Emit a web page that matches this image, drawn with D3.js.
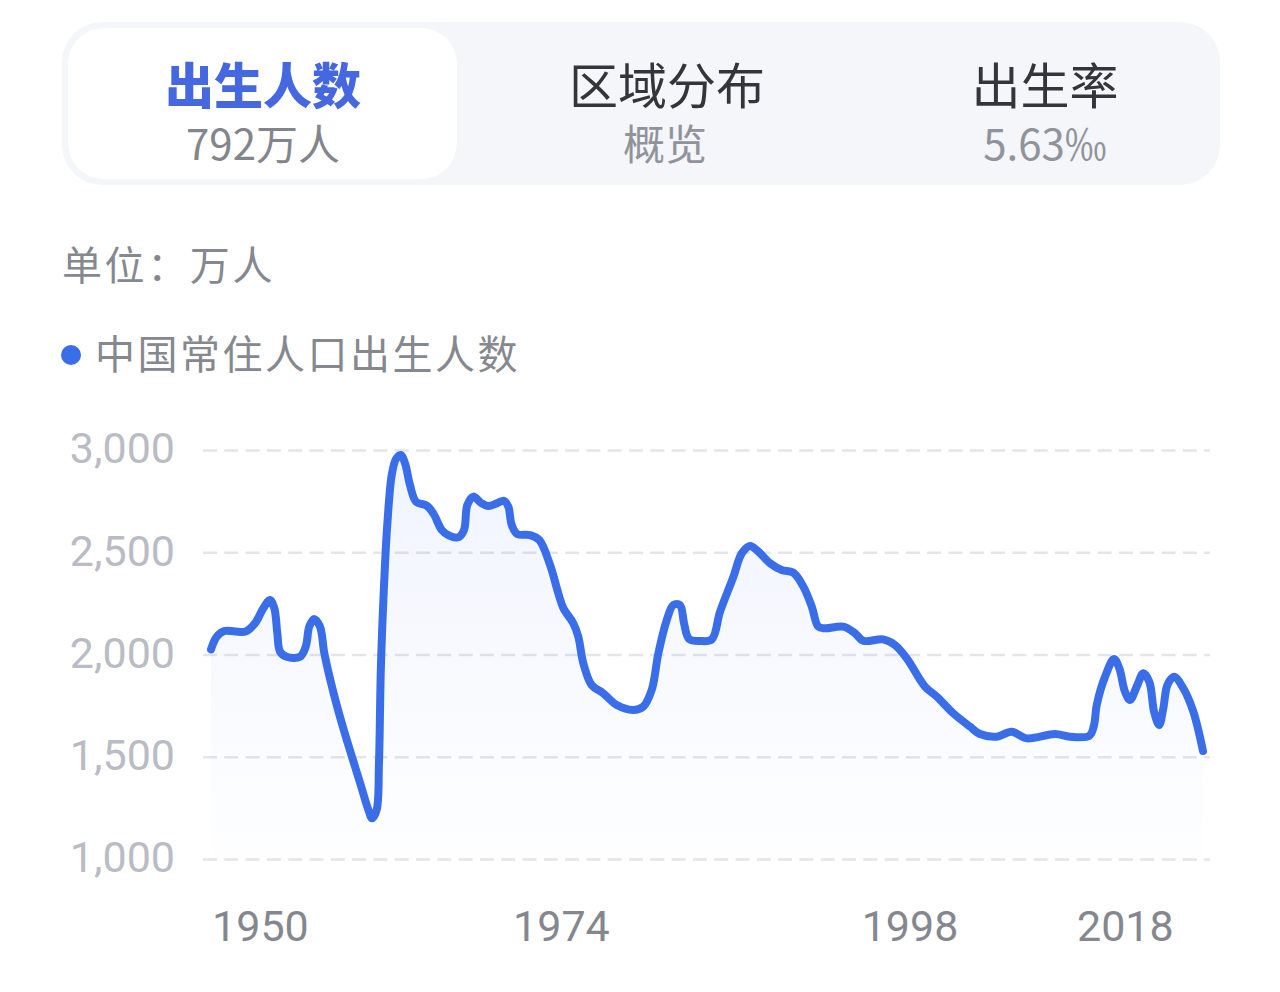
<!DOCTYPE html>
<html>
<head>
<meta charset="utf-8">
<script src="https://cdnjs.cloudflare.com/ajax/libs/d3/7.8.5/d3.min.js"></script>
<style>
html, body { margin: 0; padding: 0; background: #fff; }
text { font-family: "Noto Sans CJK SC", "Noto Sans", sans-serif; }
.num { font-family: Roboto, "Noto Sans", sans-serif; }
</style>
</head>
<body>
<div id="chart"></div>
<script>
const width = 1280;
const height = 992;

// the curve, knots at each bend (decimal year / births)
const years = [
  1949.00, 1949.42, 1949.98, 1950.77, 1951.55, 1952.24, 1952.85, 1953.34, 1953.66, 1953.88,
  1954.08, 1954.57, 1955.55, 1955.97, 1956.23, 1956.58, 1957.02, 1957.34, 1958.00, 1958.71,
  1959.97, 1960.58, 1960.85, 1961.19, 1961.36, 1961.51, 1961.81, 1961.97, 1962.30, 1962.61,
  1962.96, 1963.28, 1963.64, 1964.09, 1964.87, 1965.36, 1965.98, 1966.46, 1967.20, 1967.62,
  1967.86, 1968.30, 1968.92, 1969.41, 1970.03, 1970.56, 1970.88, 1971.13, 1971.54, 1972.48,
  1973.16, 1973.95, 1974.56, 1974.93, 1975.66, 1976.03, 1976.40, 1977.01, 1977.87, 1978.86,
  1980.08, 1980.81, 1981.43, 1981.92, 1982.54, 1983.02, 1983.51, 1983.81, 1984.18, 1984.99,
  1985.85, 1986.46, 1987.44, 1988.06, 1988.67, 1989.28, 1990.14, 1991.00, 1991.85, 1992.59,
  1993.21, 1993.69, 1994.18, 1995.53, 1996.39, 1997.00, 1998.47, 1999.34, 2000.20, 2001.54,
  2002.41, 2003.63, 2004.86, 2005.59, 2006.82, 2007.93, 2009.03, 2011.11, 2012.22, 2013.64,
  2013.98, 2014.18, 2014.79, 2015.45, 2015.84, 2016.26, 2016.63, 2017.12, 2017.61, 2018.05,
  2018.40, 2018.77, 2019.08, 2019.38, 2019.87, 2020.55, 2021.29, 2022.00,
];

const births = [
  2025, 2087, 2115, 2113, 2113, 2153, 2226, 2267, 2226, 2104,
  2014, 1989, 1989, 2038, 2136, 2174, 2136, 2006, 1817, 1645,
  1372, 1240, 1199, 1240, 1469, 1958, 2447, 2633, 2878, 2956,
  2976, 2935, 2829, 2747, 2728, 2690, 2609, 2584, 2573, 2609,
  2731, 2772, 2739, 2726, 2739, 2752, 2723, 2633, 2589, 2584,
  2560, 2438, 2299, 2226, 2153, 2087, 1957, 1851, 1810, 1753,
  1729, 1745, 1826, 2006, 2169, 2242, 2242, 2153, 2076, 2066,
  2074, 2209, 2380, 2495, 2531, 2503, 2446, 2413, 2400, 2332,
  2234, 2136, 2128, 2136, 2104, 2067, 2074, 2046, 1981, 1843,
  1794, 1712, 1647, 1611, 1598, 1622, 1590, 1611, 1598, 1603,
  1655, 1753, 1891, 1978, 1933, 1818, 1778, 1843, 1908, 1867,
  1720, 1655, 1737, 1851, 1891, 1835, 1720, 1528,
];

const yTicks = [1000, 1500, 2000, 2500, 3000];
const xTickLabels = ["1950", "1974", "1998", "2018"];
// the labels in the picture do not sit on their own year, these are the years they sit over
const xTickSlots = [1952.6, 1974.75, 2000.4, 2016.25];

const tabTitles = ["出生人数", "区域分布", "出生率"];
const tabValues = ["792万人", "概览", "5.63‰"];
const unitLabel = "单位：万人";
const legendLabel = "中国常住人口出生人数";

const blue = "#3a6ee8";

const svg = d3.select("#chart").append("svg")
    .attr("width", width)
    .attr("height", height)
    .attr("viewBox", `0 0 ${width} ${height}`)
    .style("display", "block");

const x = d3.scaleLinear().domain([1949, 2022]).range([211, 1203]);
const y = d3.scaleLinear().domain([1000, 3000]).range([859, 450]);

// tab bar
svg.append("rect")
    .attr("x", 62).attr("y", 22)
    .attr("width", 1158).attr("height", 163)
    .attr("rx", 40)
    .attr("fill", "#f4f6fa");

svg.append("rect")
    .attr("x", 68).attr("y", 28)
    .attr("width", 389).attr("height", 151)
    .attr("rx", 36)
    .attr("fill", "#fff");

const tabCentres = [263, 667, 1045];

svg.selectAll(".tabTitle")
    .data(tabTitles)
    .enter()
    .append("text")
    .attr("class", "tabTitle")
    .text(d => d)
    .attr("x", (d, i) => tabCentres[i])
    .attr("y", 104)
    .attr("text-anchor", "middle")
    .attr("font-size", 49)
    .attr("font-weight", (d, i) => i === 0 ? 900 : 400)
    .attr("fill", (d, i) => i === 0 ? "#4568e0" : "#33353b");

svg.selectAll(".tabValue")
    .data(tabValues)
    .enter()
    .append("text")
    .attr("class", "tabValue")
    .text(d => d)
    .attr("x", (d, i) => tabCentres[i] - (i === 1 ? 2 : 0))
    .attr("y", 160)
    .attr("text-anchor", "middle")
    .attr("font-size", 42)
    .attr("fill", (d, i) => i === 0 ? "#83858c" : "#90939b");

// unit + legend
svg.append("text")
    .text(unitLabel)
    .attr("x", 62).attr("y", 280)
    .attr("font-size", 40)
    .attr("letter-spacing", 2.6)
    .attr("fill", "#85888f");

svg.append("circle")
    .attr("cx", 71).attr("cy", 355).attr("r", 10)
    .attr("fill", blue);

svg.append("text")
    .text(legendLabel)
    .attr("x", 95).attr("y", 369)
    .attr("font-size", 40)
    .attr("letter-spacing", 2.5)
    .attr("fill", "#85888f");

// axes
const yAxis = svg.append("g")
    .attr("transform", "translate(203,0)")
    .call(d3.axisLeft(y).tickValues(yTicks).tickFormat(d3.format(",")).tickSize(-1007).tickPadding(28));

yAxis.select(".domain").remove();
yAxis.selectAll("line")
    .attr("stroke", "#e4e5ea")
    .attr("stroke-width", 2.5)
    .attr("stroke-dasharray", "14 7.3");
yAxis.selectAll("text")
    .attr("class", "num")
    .attr("font-size", 43)
    .attr("dy", "0.3em")
    .attr("fill", "#b9bcc4");

const xAxis = svg.append("g")
    .attr("transform", "translate(0,899)")
    .call(d3.axisBottom(x).tickValues(xTickSlots).tickFormat((d, i) => xTickLabels[i]).tickSize(0).tickPadding(11));

xAxis.select(".domain").remove();
xAxis.selectAll("text")
    .attr("class", "num")
    .attr("font-size", 43)
    .attr("fill", "#85878f");

// area + line
const defs = svg.append("defs");
const grad = defs.append("linearGradient")
    .attr("id", "areaFill")
    .attr("x1", 0).attr("x2", 0)
    .attr("y1", 0).attr("y2", 1);
grad.append("stop").attr("offset", "0%").attr("stop-color", "#3a6ee8").attr("stop-opacity", 0.075);
grad.append("stop").attr("offset", "100%").attr("stop-color", "#3a6ee8").attr("stop-opacity", 0.005);

const curve = d3.curveCatmullRom.alpha(0.5);

const area = d3.area()
    .x((d, i) => x(years[i]))
    .y0(y(1000))
    .y1(d => y(d))
    .curve(curve);

const line = d3.line()
    .x((d, i) => x(years[i]))
    .y(d => y(d))
    .curve(curve);

svg.append("path")
    .datum(births)
    .attr("d", area)
    .attr("fill", "url(#areaFill)");

svg.append("path")
    .datum(births)
    .attr("d", line)
    .attr("fill", "none")
    .attr("stroke", blue)
    .attr("stroke-width", 8)
    .attr("stroke-linejoin", "round")
    .attr("stroke-linecap", "round");
</script>
</body>
</html>
